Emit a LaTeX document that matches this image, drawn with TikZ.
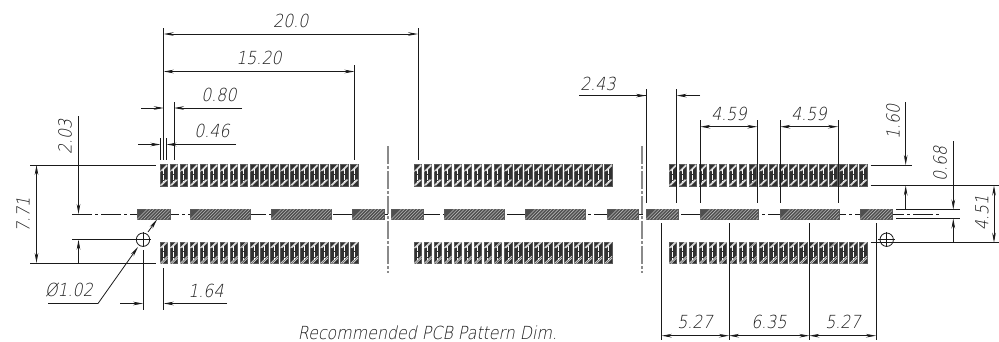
\documentclass[tikz,border=0pt]{standalone}
\usepackage{fontspec}
\usetikzlibrary{arrows.meta}
\newfontfamily\iso[FakeSlant=0.2,FakeStretch=0.88]{DejaVu Sans ExtraLight}
\definecolor{ink}{HTML}{1A1A1A}
\definecolor{padfill}{HTML}{303030}
\definecolor{cline}{HTML}{8A8A8A}
\tikzset{
  dimline/.style={ink,line width=0.8pt},
  ext/.style={ink,line width=0.8pt},
  arrowR/.style={dimline,-{Stealth[length=10pt,width=3.6pt]}},
  arrowB/.style={dimline,{Stealth[length=10pt,width=3.6pt]}-{Stealth[length=10pt,width=3.6pt]}},
  lbl/.style={font=\iso\fontsize{18}{20}\selectfont,inner sep=0pt,text=ink},
  center/.style={ink,line width=0.8pt,dash pattern=on 20pt off 3pt on 3pt off 3pt},
  vcenter/.style={cline,line width=1.1pt,dash pattern=on 18pt off 2pt on 3pt off 2pt},
  padbase/.style={fill=padfill,draw=gray!70!black,line width=0.5pt},
  pics/smallpad/.style={code={
    \path[padbase] (0,0) rectangle (7.5,21.5);
    \begin{scope}
      \clip (0,0) rectangle (7.5,21.5);
      \draw[white!85!black,line width=0.7pt] (0,21) -- (6,15) (1.5,21) -- (7.5,15);
      \draw[white!85!black,line width=0.7pt] (0,7) -- (7,0) (2,6.5) -- (7.5,1);
      \draw[white,line width=1pt,dash pattern=on 5pt off 1pt] (3.75,4) -- (3.75,17.5);
    \end{scope}
  }},
  pics/smallpadb/.style={code={
    \path[padbase] (0,0) rectangle (7.5,21.5);
    \begin{scope}
      \clip (0,0) rectangle (7.5,21.5);
      \draw[white!85!black,line width=0.7pt] (0,6) -- (6,0) (1.5,6) -- (7.5,0);
      \draw[white!85!black,line width=0.7pt] (0,21.5) -- (7.5,14) (2,21.5) -- (7.5,16);
      \draw[white,line width=1pt,dash pattern=on 5pt off 1pt] (3.75,4) -- (3.75,17.5);
    \end{scope}
  }},
}
\newcommand{\widepad}[2]{%
  \path[padbase,fill=padfill!85!white] (#1,209) rectangle (#2,219.5);
  \begin{scope}
    \clip (#1,209) rectangle (#2,219.5);
    \foreach \hx in {#1,...,#2}{}
    \pgfmathsetmacro{\pa}{#1}\pgfmathsetmacro{\pb}{#2}
    \foreach \hx in {0,3.3,...,70}{
      \pgfmathsetmacro{\qx}{\pa+\hx}
      \draw[gray!55,line width=0.55pt] (\qx,219.5) -- ++(10.5,-10.5);
    }
  \end{scope}
}
\begin{document}
\begin{tikzpicture}[x=1pt,y=-1pt]
\useasboundingbox (0,0) rectangle (999,341);
% centre lines
\draw[center] (72,214) -- (942,214);
\draw[vcenter] (388,146) -- (388,273);
\draw[vcenter] (642,146) -- (642,273);
% small pads
\foreach \gx in {160,414,669}{
  \foreach \i in {0,...,19}{
    \pic at ({\gx+10.03*\i},164.5) {smallpad};
    \pic at ({\gx+10.03*\i},242) {smallpadb};
  }
}
% wide pads
\widepad{137}{170}\widepad{190}{250}\widepad{271}{331}\widepad{352}{384}
\widepad{391}{423}\widepad{444}{504}\widepad{525}{585}\widepad{607}{638}
\widepad{646}{678}\widepad{700}{758}\widepad{780}{839}\widepad{860}{892}
% extension lines, left
\draw[ext] (163.7,28) -- (163.7,160);
\draw[ext] (418,28) -- (418,160);
\draw[ext] (354.5,65) -- (354.5,160);
\draw[ext] (174,102) -- (174,160);
\draw[ext] (160.5,138) -- (160.5,160);
\draw[ext] (166.5,138) -- (166.5,160);
\draw[ext] (30,165) -- (156,165);
\draw[ext] (30,263) -- (156,263);
\draw[ext] (72,239.7) -- (135,239.7);
\draw[ext] (143,250) -- (143,310);
\draw[ext] (163.7,268) -- (163.7,310);
% dims, left
\draw[arrowB] (163.7,34) -- node[pos=0.5,above=6pt,lbl]{20.0} (418,34);
\node[lbl] at (291,21) {};
\draw[arrowB] (163.7,71.5) -- (354.5,71.5);
\node[lbl] at (259,58) {15.20};
\draw[arrowR] (141,108) -- (163.7,108);
\draw[arrowR] (242,108) -- (174,108);
\node[lbl] at (219,95) {0.80};
\draw[arrowR] (138,144.5) -- (160.5,144.5);
\draw[arrowR] (236,144.5) -- (166.5,144.5);
\node[lbl] at (212,131) {0.46};
\draw[arrowR] (78.5,116) -- (78.5,214);
\draw[arrowR] (78.5,263) -- (78.5,239.7);
\node[lbl,rotate=90] at (65,137) {2.03};
\draw[arrowB] (36.5,165) -- (36.5,263);
\node[lbl,rotate=90] at (23,215) {7.71};
\draw[arrowR] (120,303.5) -- (143,303.5);
\draw[arrowR] (227,303.5) -- (163.7,303.5);
\node[lbl] at (206,291) {1.64};
% leader
\draw[arrowR] (48,303.5) -- (98,303.5) -- (138,247);
\draw[arrowR] (148,232) -- (157,219.5);
\node[lbl] at (69,290) {Ø1.02};
% holes
\draw[ink,line width=0.8pt] (143,239.7) circle (6.7);
\draw[ink,line width=0.8pt] (135,239.7) -- (151,239.7) (143,232) -- (143,247);
\draw[ink,line width=0.8pt] (886.7,239.7) circle (6.7);
\draw[ink,line width=0.8pt] (878,239.7) -- (895,239.7) (886.7,232) -- (886.7,247);
% right extension lines
\draw[ext] (646,89) -- (646,203);
\draw[ext] (676.7,89) -- (676.7,203);
\draw[ext] (700.3,120) -- (700.3,203);
\draw[ext] (757.3,120) -- (757.3,203);
\draw[ext] (780.3,120) -- (780.3,203);
\draw[ext] (838,120) -- (838,203);
\draw[ext] (870.5,165) -- (912,165);
\draw[ext] (870.5,185.5) -- (999,185.5);
\draw[ext] (896,209.5) -- (960,209.5);
\draw[ext] (896,218.5) -- (960,218.5);
\draw[ext] (870.5,242.7) -- (999,242.7);
\draw[ext] (661.7,223) -- (661.7,340);
\draw[ext] (729,223) -- (729,340);
\draw[ext] (809.3,223) -- (809.3,340);
\draw[ext] (876,223) -- (876,340);
% right dims
\draw[dimline] (579,95.6) -- (646,95.6);
\draw[arrowR] (620,95.6) -- (646,95.6);
\draw[arrowR] (700,95.6) -- (676.7,95.6);
\node[lbl] at (598,84) {2.43};
\draw[arrowB] (700.3,126.7) -- (757.3,126.7);
\node[lbl] at (729,114) {4.59};
\draw[arrowB] (780.3,126.7) -- (838,126.7);
\node[lbl] at (809,114) {4.59};
\draw[arrowR] (905.7,102) -- (905.7,165);
\draw[arrowR] (905.7,209.5) -- (905.7,185.5);
\node[lbl,rotate=90] at (893,122) {1.60};
\draw[arrowR] (953.3,141) -- (953.3,209.5);
\draw[arrowR] (953.3,242.7) -- (953.3,218.5);
\node[lbl,rotate=90] at (940,164) {0.68};
\draw[arrowB] (994,185.5) -- (994,242.7);
\node[lbl,rotate=90] at (982,213) {4.51};
\draw[arrowB] (661.7,335.7) -- (729,335.7);
\draw[arrowB] (729,335.7) -- (809.3,335.7);
\draw[arrowB] (809.3,335.7) -- (876,335.7);
\node[lbl] at (695,322) {5.27};
\node[lbl] at (769,322) {6.35};
\node[lbl] at (843,322) {5.27};
% title
\node[lbl] at (427.5,333) {Recommended PCB Pattern Dim.};
\end{tikzpicture}
\end{document}
